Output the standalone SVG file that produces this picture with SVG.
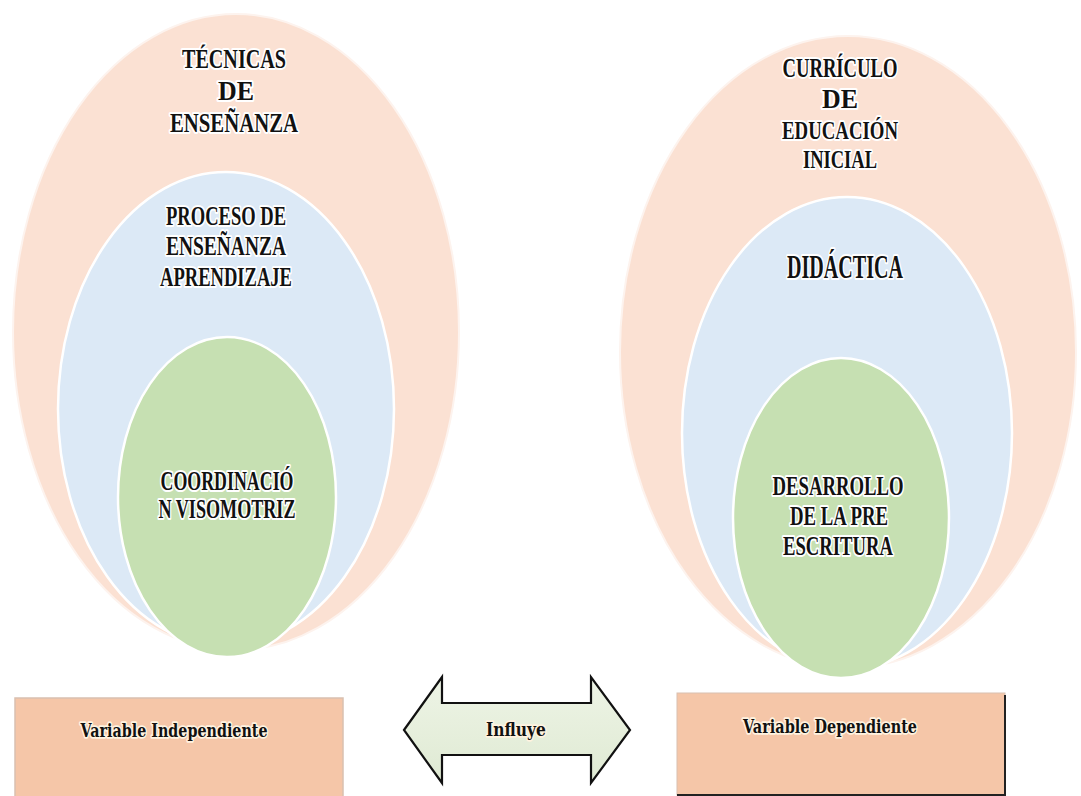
<svg xmlns="http://www.w3.org/2000/svg" width="1081" height="796" viewBox="0 0 1081 796">
<defs>
<linearGradient id="arrowFill" x1="0" y1="0" x2="0" y2="1">
<stop offset="0" stop-color="#eef4e6"/>
<stop offset="1" stop-color="#dfead3"/>
</linearGradient>
</defs>
<style>
.outer{fill:#fbe1d3;stroke:#fdf3ee;stroke-width:2}
.mid{fill:#dce9f6;stroke:#ffffff;stroke-width:2.5}
.inner{fill:#c6e0b2;stroke:#ffffff;stroke-width:2.5}
.lbl{font-family:"Liberation Serif","DejaVu Serif",serif;font-weight:bold;fill:#111;stroke:#ffffff;stroke-width:4;stroke-linejoin:round;paint-order:stroke;text-anchor:middle}
.cap{font-size:27px}
.sm{font-size:25px}
.big{font-size:33px}
.var{font-family:"DejaVu Serif","Liberation Serif",serif;font-weight:bold;font-size:19px;fill:#111;stroke:#fff3e0;stroke-width:3.5;stroke-linejoin:round;paint-order:stroke;text-anchor:middle}
.box{fill:#f5c6a8}
</style>
<rect width="1081" height="796" fill="#ffffff"/>

<g id="left-outer">
<ellipse class="outer" cx="236" cy="332" rx="223" ry="318"/>
</g>
<g id="left-mid">
<ellipse class="mid" cx="226" cy="409" rx="168" ry="237"/>
</g>
<g id="left-inner">
<ellipse class="inner" cx="227" cy="497" rx="109" ry="160"/>
</g>
<g id="left-labels">
<text class="lbl cap" x="234" y="68" textLength="104" lengthAdjust="spacingAndGlyphs">TÉCNICAS</text>
<text class="lbl cap" x="236" y="100" textLength="36" lengthAdjust="spacingAndGlyphs">DE</text>
<text class="lbl cap" x="234" y="132" textLength="128" lengthAdjust="spacingAndGlyphs">ENSEÑANZA</text>
<text class="lbl cap" x="226" y="225" textLength="120" lengthAdjust="spacingAndGlyphs">PROCESO DE</text>
<text class="lbl cap" x="226" y="255" textLength="120" lengthAdjust="spacingAndGlyphs">ENSEÑANZA</text>
<text class="lbl cap" x="226" y="286" textLength="132" lengthAdjust="spacingAndGlyphs">APRENDIZAJE</text>
<text class="lbl cap" x="227" y="490" textLength="133" lengthAdjust="spacingAndGlyphs">COORDINACIÓ</text>
<text class="lbl cap" x="227" y="518" textLength="137" lengthAdjust="spacingAndGlyphs">N VISOMOTRIZ</text>
</g>

<g id="right-outer">
<ellipse class="outer" cx="848" cy="352" rx="228" ry="316"/>
</g>
<g id="right-mid">
<ellipse class="mid" cx="847" cy="433" rx="165" ry="236"/>
</g>
<g id="right-inner">
<ellipse class="inner" cx="841" cy="518" rx="108" ry="160"/>
</g>
<g id="right-labels">
<text class="lbl cap" x="840" y="77" textLength="115" lengthAdjust="spacingAndGlyphs">CURRÍCULO</text>
<text class="lbl cap" x="840" y="108" textLength="36" lengthAdjust="spacingAndGlyphs">DE</text>
<text class="lbl sm" x="840" y="139" textLength="116" lengthAdjust="spacingAndGlyphs">EDUCACIÓN</text>
<text class="lbl sm" x="840" y="168" textLength="74" lengthAdjust="spacingAndGlyphs">INICIAL</text>
<text class="lbl big" x="845" y="278" textLength="116" lengthAdjust="spacingAndGlyphs">DIDÁCTICA</text>
<text class="lbl cap" x="838" y="495" textLength="131" lengthAdjust="spacingAndGlyphs">DESARROLLO</text>
<text class="lbl cap" x="839" y="525" textLength="98" lengthAdjust="spacingAndGlyphs">DE LA PRE</text>
<text class="lbl cap" x="838" y="555" textLength="110" lengthAdjust="spacingAndGlyphs">ESCRITURA</text>
</g>

<g id="box-independiente">
<rect class="box" x="15" y="698" width="328" height="100" stroke="#d9c0b0" stroke-width="1.5"/>
<text class="var" x="174" y="737" textLength="187" lengthAdjust="spacingAndGlyphs">Variable Independiente</text>
</g>
<g id="box-dependiente">
<rect class="box" x="677" y="693" width="328" height="102" stroke="#d9c0b0" stroke-width="1"/>
<path d="M1005 695 V795 H677" fill="none" stroke="#222" stroke-width="2"/>
<text class="var" x="830" y="733" textLength="174" lengthAdjust="spacingAndGlyphs">Variable Dependiente</text>
</g>

<g id="connectors">
<g id="arrow-influye">
<path d="M404 730 L442 677 L442 703 L591 703 L591 677 L630 730 L591 783 L591 755 L442 755 L442 783 Z" fill="url(#arrowFill)" stroke="#111" stroke-width="2.2" stroke-linejoin="miter"/>
<text class="var" x="516" y="736" textLength="60" lengthAdjust="spacingAndGlyphs">Influye</text>
</g>
</g>
</svg>
